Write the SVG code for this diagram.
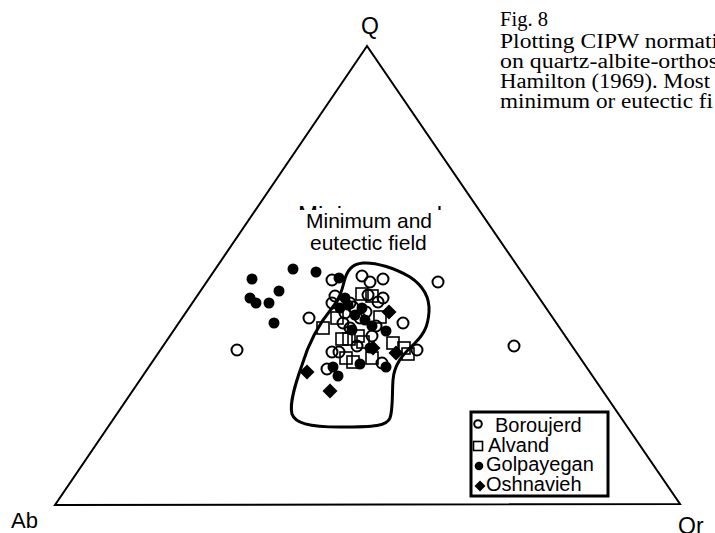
<svg xmlns="http://www.w3.org/2000/svg" width="715" height="533" viewBox="0 0 715 533">
<style>
.ax{fill:none;stroke:#000;stroke-width:2}
.fld{fill:none;stroke:#000;stroke-width:3;stroke-linejoin:round}
.lbl{font-family:"Liberation Sans",Arial,sans-serif;fill:#000}
.cap{font-family:"Liberation Serif","Times New Roman",serif;font-size:20.5px;fill:#000}
.oc{fill:none;stroke:#000;stroke-width:2}
.fc{fill:#000}
.sq{fill:none;stroke:#000;stroke-width:1.6}
.dm{fill:#000}
</style>
<defs>
<circle id="o" r="5.5" class="oc"/>
<circle id="f" r="5.5" class="fc"/>
<rect id="s" x="-6" y="-6" width="12" height="12" class="sq"/>
<polygon id="d" points="0,-7.5 7.5,0 0,7.5 -7.5,0" class="dm"/>
<clipPath id="strip"><rect x="290" y="205" width="160" height="5"/></clipPath>
</defs>
<rect width="715" height="533" fill="#fff"/>
<g id="caption">
<text class="cap" x="500" y="26" textLength="48" lengthAdjust="spacingAndGlyphs">Fig. 8</text>
<text class="cap" x="500" y="48" textLength="218" lengthAdjust="spacingAndGlyphs">Plotting CIPW normati</text>
<text class="cap" x="500" y="68" textLength="218" lengthAdjust="spacingAndGlyphs">on  quartz-albite-orthos</text>
<text class="cap" x="500" y="88" textLength="210" lengthAdjust="spacingAndGlyphs">Hamilton (1969). Most</text>
<text class="cap" x="500" y="108" textLength="213" lengthAdjust="spacingAndGlyphs">minimum or eutectic fi</text>
</g>
<g id="triangle">
<polygon class="ax" points="367,46 55,505 680,504"/>
<text class="lbl" x="370" y="34" font-size="23" text-anchor="middle">Q</text>
<text class="lbl" x="11" y="528" font-size="22">Ab</text>
<text class="lbl" x="678" y="534" font-size="23">Or</text>
</g>
<g id="field">
<path class="fld" d="M363,263 C375,262 395,268 410,277 C422,285 430,296 429,312 C428,325 425,333 415,343 C402,355 394,365 393,380 C392,395 393,410 390,418 C387,426 375,427 340,427 C308,427 295,423 292,414 C289,403 296,382 302,365 C308,345 318,325 332,308 C340,298 342,290 344,282 C347,270 352,264 363,263 Z"/>
<text class="lbl" x="298" y="223" font-size="24" clip-path="url(#strip)">Minimum and</text>
<text class="lbl" x="306" y="228" font-size="21">Minimum and</text>
<text class="lbl" x="310" y="250" font-size="21">eutectic field</text>
</g>
<g id="boroujerd">
<use href="#o" x="237" y="350"/><use href="#o" x="438" y="282"/><use href="#o" x="514" y="346"/>
<use href="#o" x="309" y="318"/><use href="#o" x="332" y="280"/><use href="#o" x="362" y="276"/>
<use href="#o" x="370" y="282"/><use href="#o" x="383" y="279"/><use href="#o" x="335" y="296"/>
<use href="#o" x="368" y="295"/><use href="#o" x="383" y="298"/><use href="#o" x="378" y="302"/>
<use href="#o" x="332" y="303"/><use href="#o" x="353" y="307"/><use href="#o" x="403" y="323"/>
<use href="#o" x="343" y="323"/><use href="#o" x="332" y="352"/><use href="#o" x="339" y="352"/>
<use href="#o" x="417" y="350"/><use href="#o" x="382" y="363"/><use href="#o" x="327" y="369"/>
<use href="#o" x="350" y="303"/><use href="#o" x="360" y="318"/><use href="#o" x="366" y="312"/>
<use href="#o" x="350" y="328"/><use href="#o" x="376" y="326"/><use href="#o" x="345" y="313"/>
<use href="#o" x="357" y="346"/><use href="#o" x="372" y="336"/>
</g>
<g id="alvand">
<use href="#s" x="362" y="294"/><use href="#s" x="372" y="296"/><use href="#s" x="380" y="317"/>
<use href="#s" x="323" y="328"/><use href="#s" x="342" y="339"/><use href="#s" x="349" y="339"/>
<use href="#s" x="358" y="336"/><use href="#s" x="363" y="342"/><use href="#s" x="353" y="362"/>
<use href="#s" x="372" y="358"/><use href="#s" x="393" y="343"/><use href="#s" x="404" y="348"/>
<use href="#s" x="408" y="354"/><use href="#s" x="337" y="318"/><use href="#s" x="346" y="358"/>
</g>
<g id="golpayegan">
<use href="#f" x="293" y="269"/><use href="#f" x="316" y="272"/><use href="#f" x="252" y="279"/>
<use href="#f" x="279" y="291"/><use href="#f" x="250" y="298"/><use href="#f" x="256" y="303"/>
<use href="#f" x="269" y="303"/><use href="#f" x="274" y="323"/><use href="#f" x="339" y="278"/>
<use href="#f" x="345" y="298"/><use href="#f" x="340" y="308"/><use href="#f" x="348" y="305"/>
<use href="#f" x="386" y="331"/><use href="#f" x="370" y="348"/><use href="#f" x="360" y="364"/>
<use href="#f" x="386" y="367"/><use href="#f" x="333" y="367"/><use href="#f" x="338" y="376"/>
<use href="#f" x="355" y="315"/><use href="#f" x="365" y="320"/><use href="#f" x="352" y="330"/>
<use href="#f" x="372" y="326"/><use href="#f" x="362" y="308"/>
</g>
<g id="oshnavieh">
<use href="#d" x="389" y="312"/><use href="#d" x="373" y="348"/><use href="#d" x="396" y="353"/>
<use href="#d" x="307" y="372"/><use href="#d" x="330" y="391"/>
</g>
<g id="connectors"></g>
<g id="legend">
<rect x="471" y="412" width="137" height="84" fill="none" stroke="#000" stroke-width="3"/>
<circle cx="478" cy="424" r="3.8" class="oc"/>
<rect x="473.5" y="441.5" width="9" height="9" class="sq"/>
<circle cx="479" cy="466" r="4.3" class="fc"/>
<polygon points="480,480.5 485.5,486 480,491.5 474.5,486" class="dm"/>
<text class="lbl" x="495" y="432" font-size="20">Boroujerd</text>
<text class="lbl" x="488" y="452" font-size="20">Alvand</text>
<text class="lbl" x="486" y="471" font-size="20">Golpayegan</text>
<text class="lbl" x="486" y="491" font-size="20">Oshnavieh</text>
</g>
</svg>
